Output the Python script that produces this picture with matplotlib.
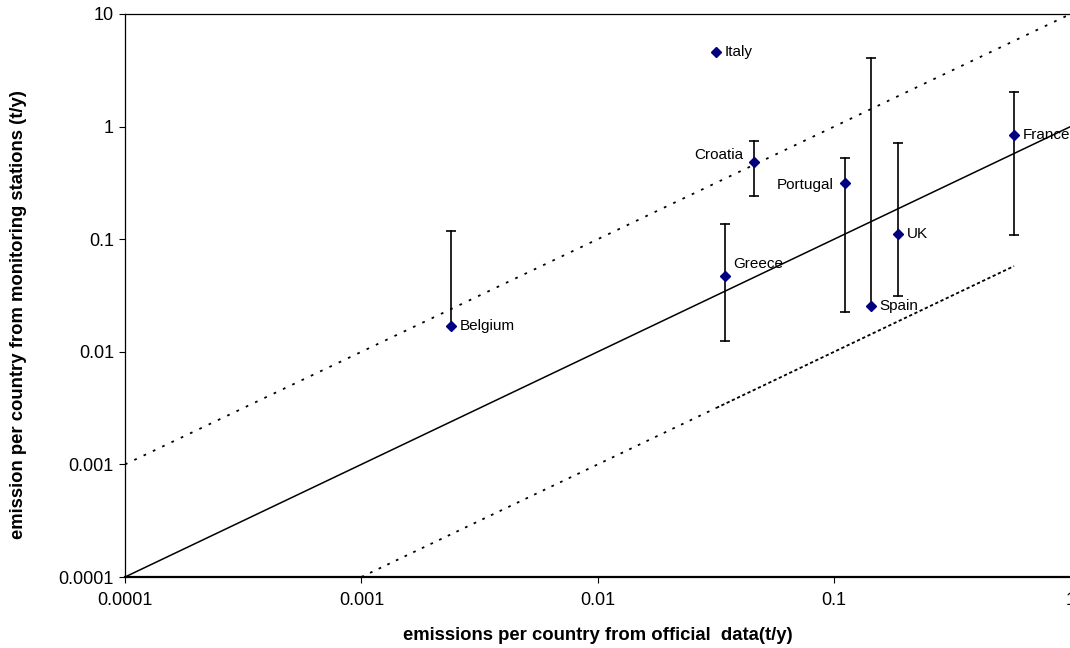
import numpy as np
import matplotlib
matplotlib.use('Agg')
import matplotlib.pyplot as plt

plt.rcParams['font.family'] = ['Liberation Sans', 'DejaVu Sans']

# data
countries = ['Belgium', 'Italy', 'Greece', 'Croatia', 'Portugal', 'Spain', 'UK', 'France']
official = [0.0024, 0.0317, 0.0344, 0.046, 0.111, 0.1435, 0.1866, 0.577]
stations = [0.0170, 4.57, 0.0471, 0.482, 0.313, 0.0257, 0.112, 0.842]
err_high = [0.118, None, 0.1355, 0.75, 0.53, 4.07, 0.72, 2.04]
err_low = [None, None, 0.01247, 0.24, 0.0226, None, 0.0313, 0.109]

ref_x = [0.0001, 1]          # 1:1 line
upper_x = [0.0001, 1]        # x10 line
lower_x = [0.001, 0.0317, 0.577]  # /10 line (sparse part, then dense part)

xticks = [0.0001, 0.001, 0.01, 0.1, 1]
xticklabels = ['0.0001', '0.001', '0.01', '0.1', '1']
yticks = [0.0001, 0.001, 0.01, 0.1, 1, 10]
yticklabels = ['0.0001', '0.001', '0.01', '0.1', '1', '10']

fig = plt.figure(figsize=(10.7, 6.48), dpi=100)
ax = fig.add_axes([125 / 1070, 71 / 648, 945.5 / 1070, 563 / 648])
ax.set_xscale('log')
ax.set_yscale('log')
ax.set_xlim(0.0001, 1)
ax.set_ylim(0.0001, 10)

# reference lines
ax.plot(ref_x, ref_x, color='k', lw=1.1, zorder=1)
ax.plot(upper_x, [10 * v for v in upper_x], color='k', lw=1.3,
        linestyle=(0, (1.5, 4.2)), zorder=1)
ax.plot(lower_x[:2], [v / 10 for v in lower_x[:2]], color='k', lw=1.3,
        linestyle=(0, (1.5, 3.8)), zorder=1)
ax.plot(lower_x[1:], [v / 10 for v in lower_x[1:]], color='k', lw=1.3,
        linestyle=(0, (1.8, 1.4)), zorder=1)

# error bars
for x, y, hi, lo in zip(official, stations, err_high, err_low):
    if hi is None and lo is None:
        continue
    top = hi if hi is not None else y
    bot = lo if lo is not None else y
    ax.plot([x, x], [bot, top], color='k', lw=1.2, zorder=2)
    if hi is not None:
        ax.plot(x, hi, marker='_', color='k', ms=7, mew=1.2, zorder=2)
    if lo is not None:
        ax.plot(x, lo, marker='_', color='k', ms=7, mew=1.2, zorder=2)

ax.plot(official, stations, linestyle='none', marker='D', ms=5.5,
        color='#000080', zorder=3)

label_pos = {
    'Belgium': (6, 0, 'left'), 'Italy': (6, 0, 'left'), 'Greece': (6, 9, 'left'),
    'Croatia': (-8, 5, 'right'), 'Portugal': (-8, -1, 'right'),
    'Spain': (6, 0, 'left'), 'UK': (6, 0, 'left'), 'France': (6, 0, 'left'),
}
for name, x, y in zip(countries, official, stations):
    dx, dy, ha = label_pos[name]
    ax.annotate(name, (x, y), xytext=(dx, dy), textcoords='offset points',
                ha=ha, va='center', fontsize=11, annotation_clip=False, zorder=4)

ax.set_xticks(xticks)
ax.set_xticklabels(xticklabels)
ax.set_yticks(yticks)
ax.set_yticklabels(yticklabels)
ax.minorticks_off()
ax.tick_params(axis='both', labelsize=13, length=4, width=0.8, direction='out')
ax.tick_params(axis='x', pad=7)
ax.tick_params(axis='y', pad=4)

ax.spines['right'].set_visible(False)
ax.spines['bottom'].set_linewidth(1.6)
ax.spines['left'].set_linewidth(0.9)
ax.spines['top'].set_linewidth(0.9)

ax.set_xlabel('emissions per country from official  data(t/y)', fontsize=13.3,
              fontweight='bold', labelpad=13)
ax.set_ylabel('emission per country from monitoring stations (t/y)', fontsize=13.3,
              fontweight='bold')
ax.yaxis.set_label_coords(-0.104, 0.467)

fig.savefig('out.png', dpi=100)
